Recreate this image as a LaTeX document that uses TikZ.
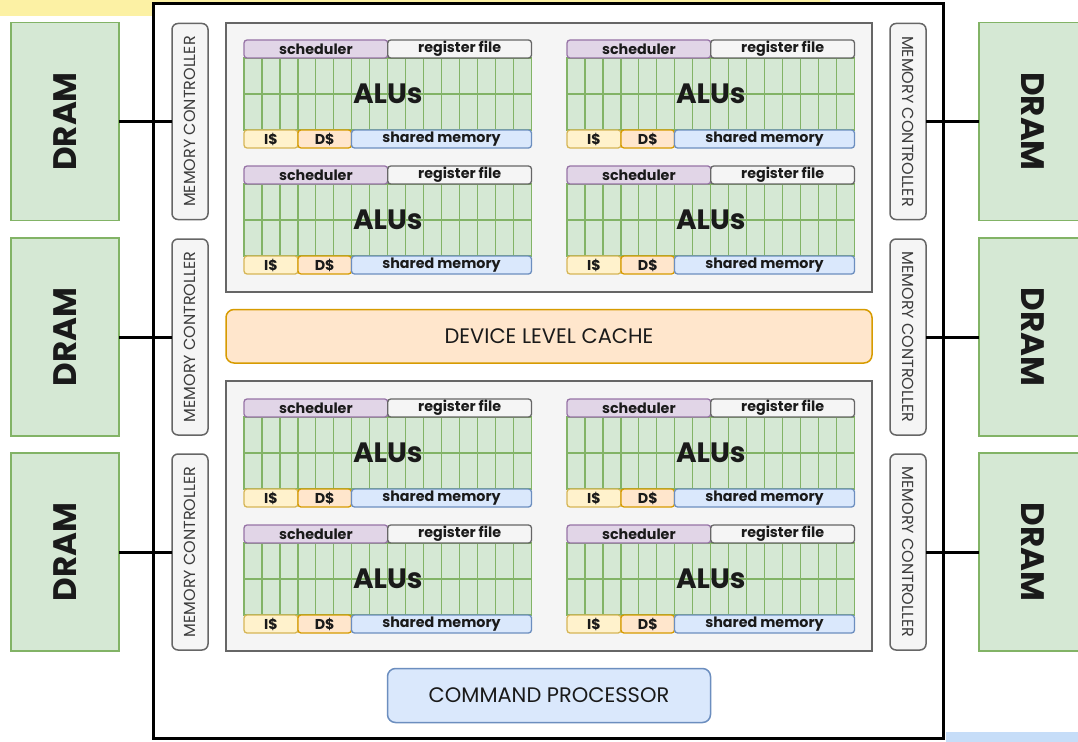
\documentclass[tikz,border=0pt]{standalone}
\usepackage{fontspec}
\setmainfont{Poppins}

\definecolor{dramfill}{HTML}{D5E8D4}
\definecolor{dramline}{HTML}{82B366}
\definecolor{grayfill}{HTML}{F5F5F5}
\definecolor{grayline}{HTML}{666666}
\definecolor{purfill}{HTML}{E1D5E7}
\definecolor{purline}{HTML}{9673A6}
\definecolor{yelfill}{HTML}{FFF2CC}
\definecolor{yelline}{HTML}{D6B656}
\definecolor{orfill}{HTML}{FFE6CC}
\definecolor{orline}{HTML}{D79B00}
\definecolor{blufill}{HTML}{DAE8FC}
\definecolor{bluline}{HTML}{6C8EBF}
\definecolor{bandyellow}{HTML}{FCF1A4}
\definecolor{bandblue}{HTML}{C6DDF8}
\definecolor{ink}{HTML}{1A1A1A}

\tikzset{
  every node/.style={inner sep=0pt, outer sep=0pt, text=ink},
  dram/.style={draw=dramline, fill=dramfill, line width=1.5pt,
    font=\fontsize{32.5}{32.5}\selectfont\bfseries},
  memctl/.style={draw=grayline, fill=grayfill, line width=1.5pt, rounded corners=6pt,
    font=\fontsize{16}{16}\selectfont, text=ink!85},
  cluster/.style={draw=grayline, fill=grayfill, line width=1.8pt},
  smlabel/.style={line width=1.3pt, rounded corners=3pt,
    font=\fontsize{14.3}{14.3}\selectfont\bfseries},
  sched/.style={smlabel, draw=purline, fill=purfill},
  regfile/.style={smlabel, draw=grayline, fill=grayfill},
  icache/.style={smlabel, draw=yelline, fill=yelfill},
  dcache/.style={smlabel, draw=orline, fill=orfill},
  shmem/.style={smlabel, draw=bluline, fill=blufill},
  alutext/.style={font=\fontsize{28}{28}\selectfont\bfseries},
  alucell/.style={draw=dramline, fill=dramfill, line width=1.2pt},
  devcache/.style={draw=orline, fill=orfill, line width=1.5pt, rounded corners=8pt,
    font=\fontsize{21}{21}\selectfont},
  cmdproc/.style={draw=bluline, fill=blufill, line width=1.5pt, rounded corners=8pt,
    font=\fontsize{21}{21}\selectfont},
  gpuframe/.style={draw=black, fill=white, line width=3pt},
  wire/.style={draw=black, line width=3pt},
}

% One streaming multiprocessor: #1 name, (#2,#3) top-left corner
\newcommand\smblock[3]{%
  \begin{scope}[shift={(#2,#3)}]
    \foreach \c in {0,...,15}
      \foreach \r in {0,1}
        \draw[alucell] ({\c*17.97},{18+\r*36}) rectangle ++(17.97,36);
    \node[sched, anchor=north west, minimum width=143.75pt, minimum height=18pt]
      (#1-sched) at (0,0) {scheduler};
    \node[regfile, anchor=north west, minimum width=143.75pt, minimum height=18pt]
      (#1-reg) at (143.75,0) {register file};
    \node[alutext] (#1-alu) at (143.75,54) {ALUs};
    \node[icache, anchor=north west, minimum width=54pt, minimum height=18pt]
      (#1-icache) at (0,90) {I\$};
    \node[dcache, anchor=north west, minimum width=53.5pt, minimum height=18pt]
      (#1-dcache) at (54,90) {D\$};
    \node[shmem, anchor=north west, minimum width=180pt, minimum height=18pt]
      (#1-shmem) at (107.5,90) {shared memory};
  \end{scope}}

\begin{document}
\begin{tikzpicture}[x=1pt,y=-1pt]
\useasboundingbox (0,0) rectangle (1078,741);

% page bands behind the diagram
\fill[bandyellow, rounded corners=8pt] (-20,-20) rectangle (830,16);
\fill[bandblue] (946,732) rectangle (1100,760);

% GPU die
\node[gpuframe, anchor=north west, minimum width=790pt, minimum height=734pt]
  (gpu) at (153.5,4) {};

% DRAM chips and their memory controllers
\foreach \i/\c in {1/121.5, 2/337, 3/552} {
  \node[dram, rotate=90, minimum width=198pt, minimum height=108pt]
    (dramL\i) at (65,\c) {DRAM};
  \node[memctl, rotate=90, minimum width=196pt, minimum height=36pt]
    (mcL\i) at (190,\c) {MEMORY CONTROLLER};
  \node[dram, rotate=-90, minimum width=198pt, minimum height=108pt]
    (dramR\i) at (1033,\c) {DRAM};
  \node[memctl, rotate=-90, minimum width=196pt, minimum height=36pt]
    (mcR\i) at (908,\c) {MEMORY CONTROLLER};
  \draw[wire] (dramL\i) -- (mcL\i);
  \draw[wire] (mcR\i) -- (dramR\i);
}

% SM clusters
\node[cluster, anchor=north west, minimum width=646pt, minimum height=269pt]
  (upper) at (226,23) {};
\node[cluster, anchor=north west, minimum width=646pt, minimum height=270pt]
  (lower) at (226,381) {};

\smblock{smA}{244}{40}
\smblock{smB}{567}{40}
\smblock{smC}{244}{166}
\smblock{smD}{567}{166}
\smblock{smE}{244}{399}
\smblock{smF}{567}{399}
\smblock{smG}{244}{525}
\smblock{smH}{567}{525}

% shared cache and front end
\node[devcache, anchor=north west, minimum width=646pt, minimum height=53.5pt]
  (cache) at (226,309.5) {DEVICE LEVEL CACHE};
\node[cmdproc, anchor=north west, minimum width=323pt, minimum height=54pt]
  (cmd) at (387.5,668.5) {COMMAND PROCESSOR};
\end{tikzpicture}
\end{document}
